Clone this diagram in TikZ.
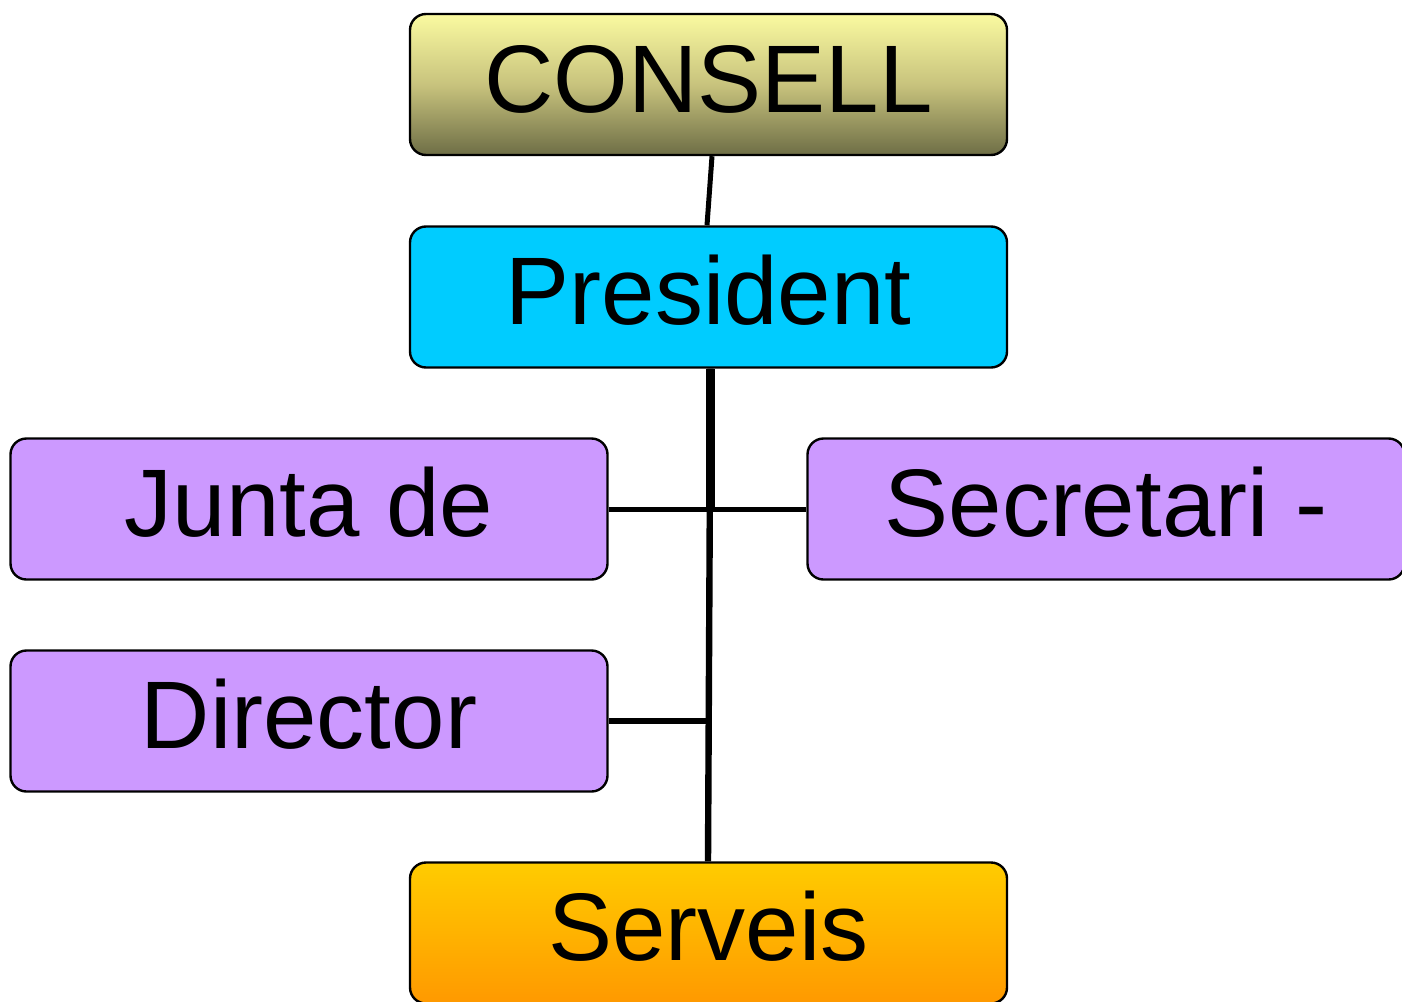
\documentclass[tikz,border=0pt]{standalone}
\usepackage{fontspec}
\setmainfont{Liberation Sans}
\begin{document}
\begin{tikzpicture}[x=0.5pt,y=-0.5pt,
  orgbox/.style={draw=black,line width=1.2pt,rounded corners=8pt,
    minimum width=298.5pt,minimum height=70.5pt,inner sep=0pt,
    font=\fontsize{48pt}{56pt}\selectfont,text height=33pt,text depth=5.5pt},
  conn/.style={line width=2.5pt}]
\useasboundingbox (0,0) rectangle (1402,1001);
\clip (0,0) rectangle (1402,1001);
\node[orgbox,top color={rgb,255:red,250;green,250;blue,160},bottom color={rgb,255:red,110;green,110;blue,70},middle color={rgb,255:red,200;green,195;blue,125}] (consell) at (708.5,84.5) {CONSELL};
\node[orgbox,fill={rgb,255:red,0;green,204;blue,255}] (president) at (708.5,297) {President};
\node[orgbox,fill={rgb,255:red,204;green,153;blue,255}] (junta) at (309,509) {Junta de};
\node[orgbox,fill={rgb,255:red,204;green,153;blue,255}] (secretari) at (1106,509) {Secretari -};
\node[orgbox,fill={rgb,255:red,204;green,153;blue,255}] (director) at (309,721) {Director};
\node[orgbox,top color={rgb,255:red,255;green,204;blue,0},bottom color={rgb,255:red,255;green,153;blue,0}] (serveis) at (708.5,933) {Serveis};
\coordinate (j1) at (710.5,509);
\coordinate (j2) at (709.5,721);
\draw[conn] ([xshift=1.75pt]consell.south) -- ([xshift=-0.75pt]president.north);
\draw[line width=4.5pt] ([xshift=1pt]president.south) -- (j1);
\draw[conn,line width=3.2pt] ([xshift=1pt]president.south) -- ([xshift=-0.25pt]serveis.north);
\draw[conn] (junta.east) -- (secretari.west);
\draw[conn,line width=3pt] (director.east) -- (j2);
\end{tikzpicture}
\end{document}
